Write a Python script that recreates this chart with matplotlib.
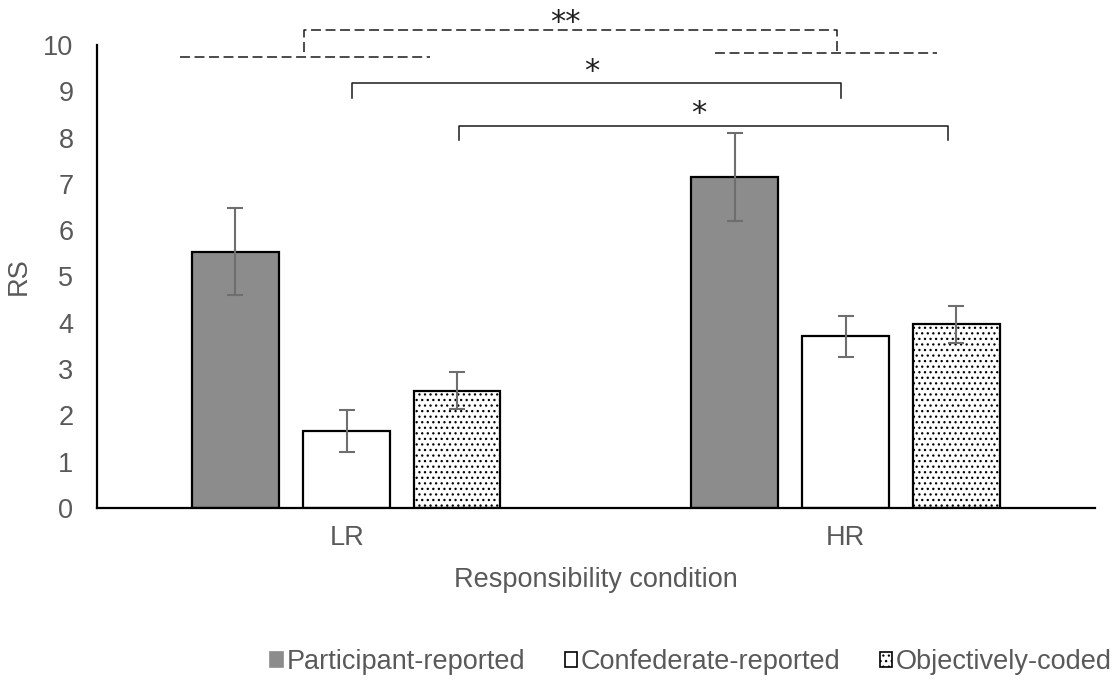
import numpy as np
import matplotlib
matplotlib.use('Agg')
import matplotlib.pyplot as plt

plt.rcParams['font.family'] = ['Liberation Sans', 'DejaVu Sans']
plt.rcParams['hatch.linewidth'] = 0.9

# data
conditions = ['LR', 'HR']
series = ['Participant-reported', 'Confederate-reported', 'Objectively-coded']
means = [[5.53, 7.15],
         [1.66, 3.71],
         [2.53, 3.97]]
errs = [[0.94, 0.95],
        [0.45, 0.44],
        [0.40, 0.40]]
colors = ['#8c8c8c', 'white', 'white']
hatches = [None, None, '...']

# significance brackets: (x1, x2, y, tick bottom left, tick bottom right, label, label y, style)
brackets = [(-0.085, 0.983, 10.32, 9.85, 9.85, '**', 10.48, '--'),
            (0.011, 0.991, 9.18, 8.86, 8.86, '*', 9.42, '-'),
            (0.225, 1.205, 8.25, 7.95, 7.95, '*', 8.51, '-')]
dashed_lines = [(-0.334, 0.167, 9.74), (0.738, 1.183, 9.83)]

txt = '#595959'
fs = 19.5
fig = plt.figure(figsize=(11.15, 6.86), dpi=100)
ax = fig.add_axes([0.087, 0.2595, 0.8955, 0.675])

x = np.arange(len(conditions))
w = 0.174
offs = [-0.223, 0.0, 0.221]
for i in range(3):
    ax.bar(x + offs[i], means[i], w, color=colors[i], edgecolor='black',
           linewidth=1.6, hatch=hatches[i], label=series[i], zorder=2)
    ax.errorbar(x + offs[i], means[i], yerr=errs[i], fmt='none', ecolor='#6e6e6e',
                elinewidth=1.5, capsize=6, capthick=1.5, zorder=3)

for x1, x2, y in dashed_lines:
    ax.plot([x1, x2], [y, y], color='#1a1a1a', lw=1.1, ls=(0, (6.5, 3)), clip_on=False)
for x1, x2, y, yl, yr, lab, ly, st in brackets:
    dash = (0, (6.5, 3)) if st == '--' else '-'
    ax.plot([x1, x1, x2, x2], [yl, y, y, yr], color='#1a1a1a', lw=1.1, ls=dash, clip_on=False)
    ax.text((x1 + x2) / 2 - 0.01, ly, lab, ha='center', va='center', fontsize=22,
            color='#202020', family='DejaVu Sans')

ax.set_xlim(-0.5, 1.5)
ax.set_ylim(0, 10)
ax.set_yticks(range(0, 11))
ax.set_xticks(x)
ax.set_xticklabels(conditions)
ax.tick_params(axis='both', length=0, labelsize=fs, labelcolor=txt)
ax.tick_params(axis='x', pad=12.5)
ax.tick_params(axis='y', pad=17)
for s in ['top', 'right']:
    ax.spines[s].set_visible(False)
for s in ['left', 'bottom']:
    ax.spines[s].set_linewidth(1.6)
    ax.spines[s].set_color('black')
ax.set_ylabel('RS', fontsize=fs, color=txt, labelpad=8)
ax.set_xlabel('Responsibility condition', fontsize=fs, color=txt, labelpad=11)

leg = fig.legend(loc='center', bbox_to_anchor=(0.62, 0.035), ncol=3, frameon=False,
                 fontsize=fs, handlelength=0.45, handleheight=0.45, handletextpad=0.15,
                 columnspacing=1.45, labelcolor=txt)
for h in leg.legend_handles:
    h.set_linewidth(1.2)
leg.legend_handles[0].set_edgecolor('#8c8c8c')

fig.savefig('out.png', dpi=100)
